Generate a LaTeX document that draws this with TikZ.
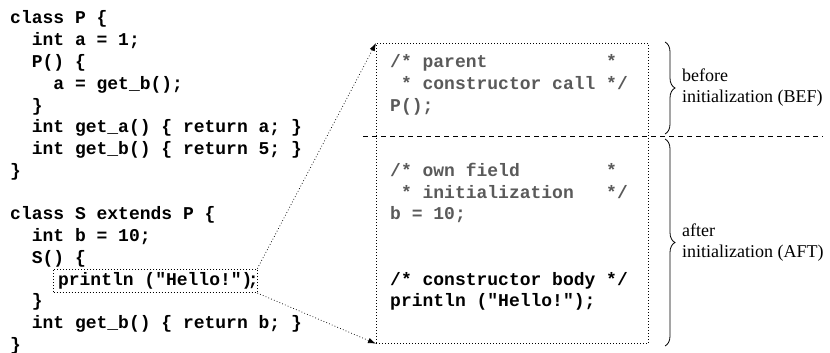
\documentclass[tikz,border=0pt]{standalone}
\usepackage{fontspec}
\setmainfont{Liberation Serif}
\newfontfamily\codefont{Liberation Mono}[Ligatures=TeXOff]
\usetikzlibrary{arrows.meta,decorations.pathreplacing}
\definecolor{codegray}{RGB}{90,90,90}
% horizontal skip of #1 monospace cells
\newcommand\sk[1]{\hspace*{#1\dimexpr0.6em\relax}}

\begin{document}
\begin{tikzpicture}[x=1pt,y=-1pt,
  code/.style={font=\codefont\bfseries\fontsize{18}{21.75}\selectfont\frenchspacing,
               anchor=base west, inner sep=0pt},
  graycode/.style={code, text=codegray},
  note/.style={font=\fontsize{18}{21}\selectfont, align=left, anchor=west, inner sep=0pt},
  dotline/.style={line width=0.7pt, dash pattern=on 0.8pt off 2.2pt},
  link/.style={dotline, -{Latex[length=8pt,width=5.5pt]}},
  bracedraw/.style={line width=0.8pt, decorate, decoration={brace, amplitude=10pt}}
]
\useasboundingbox (0,0) rectangle (830,353);

% source code of the two classes (one row every 21.75pt)
\node[code] (l0)  at (10.0, 24.00)  {class P \{};
\node[code] (l1)  at (31.6, 45.75)  {int a = 1;};
\node[code] (l2)  at (31.6, 67.50)  {P() \{};
\node[code] (l3)  at (53.2, 89.25)  {a = get\_b();};
\node[code] (l4)  at (31.6, 111.00) {\}};
\node[code] (l5)  at (31.6, 132.75) {int get\_a() \{ return a; \}};
\node[code] (l6)  at (31.6, 154.50) {int get\_b() \{ return 5; \}};
\node[code] (l7)  at (10.0, 176.25) {\}};
\node[code] (l9)  at (10.0, 219.75) {class S extends P \{};
\node[code] (l10) at (31.6, 241.50) {int b = 10;};
\node[code] (l11) at (31.6, 263.25) {S() \{};
\node[code, dotline, draw, inner xsep=4.5pt, text height=16pt, text depth=7.7pt]
      (hello) at (53.2, 285.00) {println ("Hello!")};
\node[code] (semi) at (247.6, 285.00) {;};
\node[code] (l13) at (31.6, 306.75) {\}};
\node[code] (l14) at (31.6, 328.50) {int get\_b() \{ return b; \}};
\node[code] (l15) at (10.0, 350.25) {\}};

% expanded constructor of S
\node[dotline, draw, minimum width=272pt, minimum height=300pt, inner sep=0pt,
      anchor=north west] (frame) at (376,43) {};

\node[graycode] (p1) at (390, 67.50)  {/* parent\sk{11}*};
\node[graycode] (p2) at (390, 89.25)  {\sk{1}* constructor call */};
\node[graycode] (p3) at (390, 111.00) {P();};
\node[graycode] (f1) at (390, 176.25) {/* own field\sk{8}*};
\node[graycode] (f2) at (390, 198.00) {\sk{1}* initialization\sk{3}*/};
\node[graycode] (f3) at (390, 219.75) {b = 10;};
\node[code]     (c1) at (390, 285.00) {/* constructor body */};
\node[code]     (c2) at (390, 306.75) {println ("Hello!");};

\draw[link] (hello.north east) -- (frame.north west);
\draw[link] (hello.south east) -- (frame.south west);

% split between the two phases
\draw[line width=0.7pt, dash pattern=on 5pt off 4pt] (363,136.5) -- (823,136.5);

% phase braces and labels
\coordinate (bt) at (665,42);
\coordinate (bb) at (665,134);
\coordinate (at) at (665,139);
\coordinate (ab) at (665,346);
\draw[bracedraw] (bt) -- (bb);
\draw[bracedraw] (at) -- (ab);
\node[note] (bef) at (682,88)    {before\\initialization (BEF)};
\node[note] (aft) at (682,242.5) {after\\initialization (AFT)};
\end{tikzpicture}
\end{document}
